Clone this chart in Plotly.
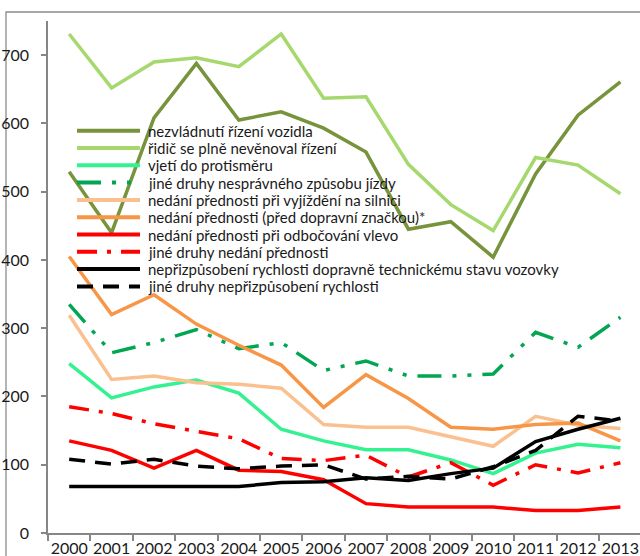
import plotly.graph_objects as go

years = list(range(2000, 2014))
year_labels = [str(y) for y in years]

nezvladnuti = [529, 440, 608, 688, 605, 617, 593, 558, 445, 456, 404, 526, 612, 661]
ridic = [731, 652, 690, 696, 683, 731, 637, 639, 540, 481, 443, 550, 539, 497]
protismer = [248, 198, 214, 224, 205, 152, 135, 122, 122, 107, 87, 117, 130, 125]
nespravny = [335, 264, 279, 298, 270, 279, 238, 252, 230, 230, 233, 294, 272, 316]
vyjizdeni = [319, 225, 230, 220, 218, 212, 159, 155, 155, 141, 127, 171, 158, 153]
znacka = [405, 320, 349, 306, 275, 246, 184, 232, 197, 155, 152, 159, 161, 135]
odbocovani = [135, 121, 95, 121, 92, 90, 78, 43, 38, 38, 38, 33, 33, 38]
jine_nedani = [185, 175, 160, 149, 138, 109, 106, 114, 82, 103, 70, 100, 88, 103]
tech_stav = [68, 68, 68, 68, 68, 74, 75, 81, 77, 87, 95, 134, 152, 168]
jine_rychlost = [108, 101, 108, 98, 94, 98, 100, 79, 83, 79, 97, 121, 171, 164]

y_ticks = [0, 100, 200, 300, 400, 500, 600, 700]

series = [
    ("nezvládnutí řízení vozidla", nezvladnuti, "#77933C", "solid"),
    ("řidič se plně nevěnoval řízení", ridic, "#A6D86E", "solid"),
    ("vjetí do protisměru", protismer, "#33F28F", "solid"),
    ("jiné druhy nesprávného způsobu jízdy", nespravny, "#00A651", "24px,11px,4px,11px,4px,11px"),
    ("nedání přednosti při vyjíždění na silnici", vyjizdeni, "#FAC090", "solid"),
    ("nedání přednosti (před dopravní značkou)*", znacka, "#F79646", "solid"),
    ("nedání přednosti při odbočování vlevo", odbocovani, "#FF0000", "solid"),
    ("jiné druhy nedání přednosti", jine_nedani, "#FF0000", "20px,10px,4px,10px"),
    ("nepřizpůsobení rychlosti dopravně technickému stavu vozovky", tech_stav, "#000000", "solid"),
    ("jiné druhy nepřizpůsobení rychlosti", jine_rychlost, "#000000", "16px,10px"),
]

W, H = 640, 556
PL, PT, PB, PR = 48, 21, 533, 640   # plot area in page pixels
ML, MT, MR = PL, PT, W - PR
PW = PR - PL
PH = PB - PT
MB = H - PB

def px_x(px):
    return (px - PL) / PW

def px_y(py):
    return (PB - py) / PH

fig = go.Figure()
for name, vals, color, dash in series:
    fig.add_trace(go.Scatter(
        x=years, y=vals, mode="lines", name=name,
        line=dict(color=color, width=3.5, dash=dash),
        showlegend=False,
    ))

shapes = []
annotations = []
# chart frame
shapes.append(dict(type="rect", xref="paper", yref="paper",
                   x0=px_x(6), y0=px_y(600), x1=px_x(700), y1=px_y(12),
                   line=dict(color="#8c8c8c", width=1.3), fillcolor="rgba(0,0,0,0)",
                   layer="below"))
# manual legend
for i, (name, vals, color, dash) in enumerate(series):
    yy = 130.7 + 17.3 * i
    shapes.append(dict(type="line", xref="paper", yref="paper",
                       x0=px_x(77), x1=px_x(140), y0=px_y(yy), y1=px_y(yy),
                       line=dict(color=color, width=4, dash=dash), layer="above"))
    annotations.append(dict(xref="paper", yref="paper", x=px_x(146), y=px_y(yy),
                            text=name, showarrow=False, xanchor="left", yanchor="middle",
                            font=dict(family="Lato", size=15, color="#1a1a1a")))

fig.update_layout(
    width=W, height=H,
    margin=dict(l=ML, r=MR, t=MT, b=MB, pad=0, autoexpand=False),
    paper_bgcolor="white", plot_bgcolor="white",
    font=dict(family="Lato", size=16, color="#1a1a1a"),
    shapes=shapes, annotations=annotations,
    showlegend=False,
)
fig.update_xaxes(
    range=[1999.5, 1999.5 + PW / 42.4], automargin=False,
    tickmode="array", tickvals=years, ticktext=year_labels,
    ticks="", showgrid=False, zeroline=False,
    showline=True, linecolor="#868686", linewidth=1.5,
    minor=dict(tickmode="array", tickvals=[y - 0.5 for y in years] + [2013.5],
               ticks="outside", ticklen=6, tickcolor="#868686", tickwidth=1.5, showgrid=False),
    tickfont=dict(size=16),
)
fig.update_yaxes(
    range=[0, 750], tickmode="array", tickvals=y_ticks, automargin=False,
    ticks="outside", ticklen=5, tickcolor="#868686", tickwidth=1.5,
    showgrid=False, zeroline=False,
    showline=True, linecolor="#868686", linewidth=1.5,
    tickfont=dict(size=16), ticklabelstandoff=9,
)

fig.write_html(
    "out.html",
    config={"displayModeBar": False},
    post_script="document.body.style.margin='0';document.body.style.overflow='hidden';",
)
